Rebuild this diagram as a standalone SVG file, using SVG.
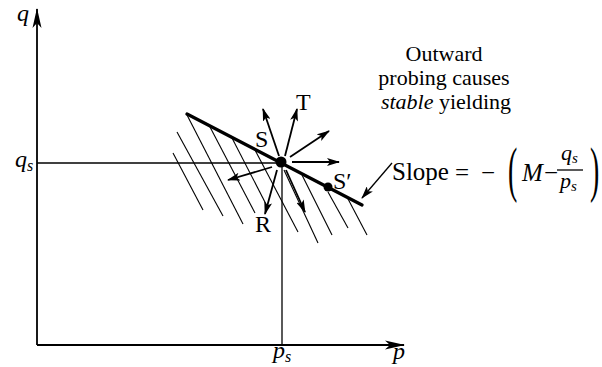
<svg xmlns="http://www.w3.org/2000/svg" width="602" height="367" viewBox="0 0 602 367">
<style>
  .ln{stroke:#000;fill:none;stroke-width:1.3;}
  .ax{stroke:#000;fill:none;stroke-width:1.8;}
  .hatch{stroke:#000;fill:none;stroke-width:1.1;}
  .thick{stroke:#000;fill:none;stroke-width:3.2;stroke-linecap:round;}
  .arr{stroke:#000;fill:none;stroke-width:1.8;}
  .t{font-family:"Liberation Serif","Times New Roman",serif;fill:#000;}
  .lab{font-size:24px;}
  .note{font-size:22px;}
  .it{font-style:italic;}
</style>
<defs>
  <marker id="ah" markerUnits="userSpaceOnUse" markerWidth="13" markerHeight="8" refX="12" refY="4" orient="auto">
    <path d="M0,0 L13,4 L0,8 L3,4 z" fill="#000"/>
  </marker>
  <marker id="axh" markerUnits="userSpaceOnUse" markerWidth="20" markerHeight="10" refX="19" refY="5" orient="auto">
    <path d="M0,0.5 L20,5 L0,9.5 L5,5 z" fill="#000"/>
  </marker>
</defs>

<g id="axes">
  <line class="ax" x1="37" y1="345" x2="37" y2="9" marker-end="url(#axh)"/>
  <line class="ax" x1="37" y1="345" x2="404" y2="345" marker-end="url(#axh)"/>
  <line class="ln" x1="37" y1="163" x2="281" y2="163"/>
  <line class="ln" x1="282" y1="162" x2="282" y2="345"/>
</g>

<g id="hatching">
  <line class="hatch" x1="173" y1="153" x2="203" y2="210"/>
  <line class="hatch" x1="177" y1="132" x2="223" y2="216"/>
  <line class="hatch" x1="187" y1="115" x2="243" y2="224"/>
  <line class="hatch" x1="210" y1="127" x2="255" y2="213"/>
  <line class="hatch" x1="232" y1="138" x2="268" y2="208"/>
  <line class="hatch" x1="255" y1="150" x2="298" y2="232"/>
  <line class="hatch" x1="284" y1="170" x2="318" y2="243"/>
  <line class="hatch" x1="302" y1="175" x2="332" y2="235"/>
  <line class="hatch" x1="328" y1="192" x2="348" y2="228"/>
  <line class="hatch" x1="347" y1="197" x2="367" y2="235"/>
</g>

<g id="yield-line">
  <line class="thick" x1="187" y1="114" x2="362" y2="205"/>
</g>

<g id="node-S">
  <circle cx="281" cy="162" r="5.5" fill="#000"/>
  <text class="t lab" x="255" y="147">S</text>
</g>
<g id="node-S-prime">
  <circle cx="328" cy="187" r="4.5" fill="#000"/>
  <text class="t lab" x="333" y="189">S′</text>
</g>

<g id="connectors">
  <line class="arr" x1="279" y1="156" x2="263" y2="109" marker-end="url(#ah)"/>
  <line class="arr" x1="285" y1="156" x2="297" y2="109" marker-end="url(#ah)"/>
  <line class="arr" x1="290" y1="157" x2="329" y2="131" marker-end="url(#ah)"/>
  <line class="arr" x1="292" y1="162" x2="339" y2="162" marker-end="url(#ah)"/>
  <line class="arr" x1="272" y1="167" x2="228" y2="180" marker-end="url(#ah)"/>
  <line class="arr" x1="277" y1="170" x2="265" y2="214" marker-end="url(#ah)"/>
  <line class="arr" x1="286" y1="170" x2="305" y2="212" stroke-width="2.6" marker-end="url(#ah)"/>
  <line class="ln" x1="392" y1="163" x2="362" y2="198" marker-end="url(#ah)"/>
</g>

<g id="labels">
  <text class="t lab" x="296" y="110">T</text>
  <text class="t lab" x="255" y="232">R</text>
  <text class="t lab it" x="17" y="21">q</text>
  <text class="t lab it" x="15" y="167">q<tspan font-size="16" dy="4">s</tspan></text>
  <text class="t lab it" x="273" y="358">p<tspan font-size="16" dy="4">s</tspan></text>
  <text class="t lab it" x="393" y="359">p</text>
</g>

<g id="note">
  <text class="t note" x="444" y="61" text-anchor="middle">Outward</text>
  <text class="t note" x="444" y="85" text-anchor="middle">probing causes</text>
  <text class="t note" x="446" y="109" text-anchor="middle"><tspan class="it">stable</tspan> yielding</text>
</g>

<g id="slope-label">
  <text class="t" font-size="25" x="392" y="180">Slope</text>
  <text class="t" font-size="25" x="455" y="181">=</text>
  <text class="t" font-size="25" x="481" y="181">−</text>
  <text class="t" font-size="62" transform="translate(508,190) scale(0.45,1)" x="0" y="0">(</text>
  <text class="t it" font-size="25" x="522" y="181">M</text>
  <text class="t" font-size="25" x="544" y="181">−</text>
  <text class="t it" font-size="22" x="561" y="160">q<tspan font-size="15" dy="3">s</tspan></text>
  <line class="ln" x1="557" y1="170" x2="583" y2="170"/>
  <text class="t it" font-size="22" x="560" y="188">p<tspan font-size="15" dy="3">s</tspan></text>
  <text class="t" font-size="62" transform="translate(590,190) scale(0.45,1)" x="0" y="0">)</text>
</g>
</svg>
